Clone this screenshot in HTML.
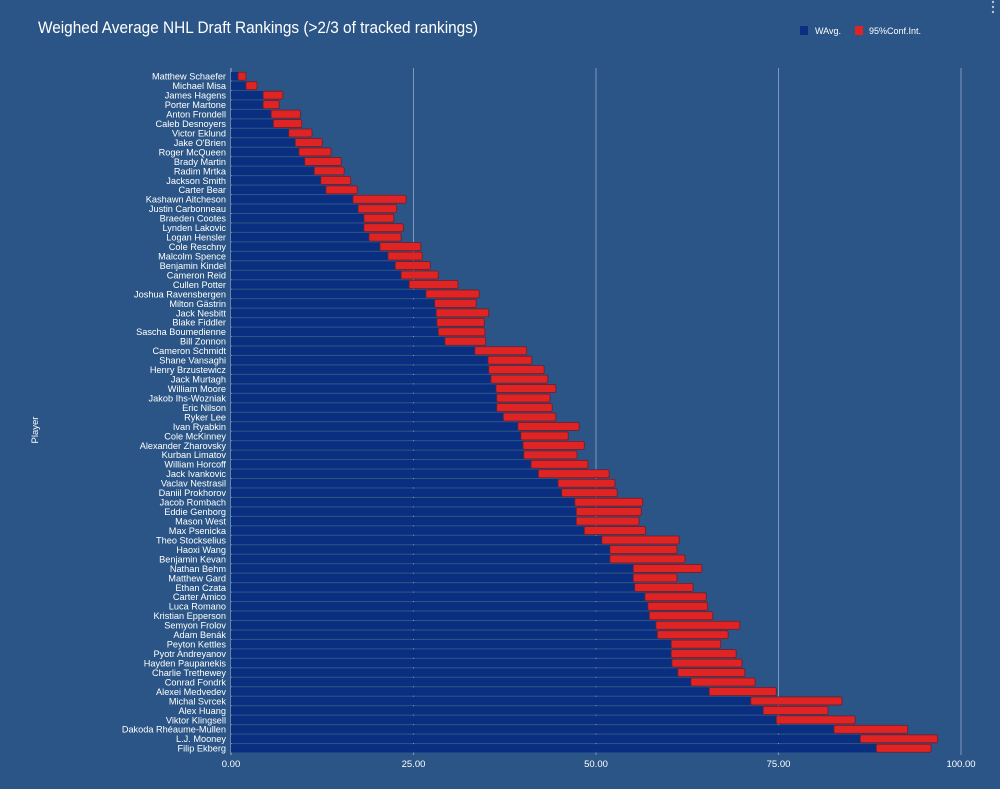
<!DOCTYPE html>
<html><head><meta charset="utf-8"><style>
html,body{margin:0;padding:0;background:#2b5586;}
svg{display:block;font-family:"Liberation Sans",sans-serif;}
</style></head><body>
<svg id="chart" width="1000" height="789" viewBox="0 0 1000 789">
<rect x="0" y="0" width="1000" height="789" fill="#2b5586"/>
<text x="38" y="33" fill="#ffffff" font-size="16.5" textLength="440" lengthAdjust="spacingAndGlyphs">Weighed Average NHL Draft Rankings (&gt;2/3 of tracked rankings)</text>
<g>
<rect x="800" y="26" width="8" height="9" fill="#0b2f80"/>
<text x="815" y="34" fill="#ffffff" font-size="9">WAvg.</text>
<rect x="855" y="26" width="8" height="9" fill="#e02424"/>
<text x="869" y="34" fill="#ffffff" font-size="9">95%Conf.Int.</text>
</g>
<g fill="#b8c4d6">
<circle cx="993" cy="2" r="1.2"/><circle cx="993" cy="7" r="1.2"/><circle cx="993" cy="12" r="1.2"/>
</g>
<text transform="translate(38,430) rotate(-90)" text-anchor="middle" fill="#ffffff" font-size="9.5">Player</text>
<g id="grid"></g><g id="bars"></g><g id="labels"></g><g id="xticks"></g>
</svg>
<script>
const players=["Matthew Schaefer","Michael Misa","James Hagens","Porter Martone","Anton Frondell","Caleb Desnoyers","Victor Eklund","Jake O'Brien","Roger McQueen","Brady Martin","Radim Mrtka","Jackson Smith","Carter Bear","Kashawn Aitcheson","Justin Carbonneau","Braeden Cootes","Lynden Lakovic","Logan Hensler","Cole Reschny","Malcolm Spence","Benjamin Kindel","Cameron Reid","Cullen Potter","Joshua Ravensbergen","Milton Gästrin","Jack Nesbitt","Blake Fiddler","Sascha Boumedienne","Bill Zonnon","Cameron Schmidt","Shane Vansaghi","Henry Brzustewicz","Jack Murtagh","William Moore","Jakob Ihs-Wozniak","Eric Nilson","Ryker Lee","Ivan Ryabkin","Cole McKinney","Alexander Zharovsky","Kurban Limatov","William Horcoff","Jack Ivankovic","Vaclav Nestrasil","Daniil Prokhorov","Jacob Rombach","Eddie Genborg","Mason West","Max Psenicka","Theo Stockselius","Haoxi Wang","Benjamin Kevan","Nathan Behm","Matthew Gard","Ethan Czata","Carter Amico","Luca Romano","Kristian Epperson","Semyon Frolov","Adam Benák","Peyton Kettles","Pyotr Andreyanov","Hayden Paupanekis","Charlie Trethewey","Conrad Fondrk","Alexei Medvedev","Michal Svrcek","Alex Huang","Viktor Klingsell","Dakoda Rhéaume-Mullen","L.J. Mooney","Filip Ekberg"];
const ciLow=[0.96,2.05,4.4,4.4,5.5,5.8,7.9,8.8,9.3,10.1,11.4,12.3,13.0,16.7,17.4,18.2,18.2,18.9,20.4,21.5,22.5,23.3,24.4,26.7,27.9,28.1,28.2,28.4,29.3,33.4,35.2,35.3,35.6,36.3,36.4,36.4,37.3,39.3,39.7,40.0,40.1,41.1,42.1,44.8,45.3,47.1,47.3,47.3,48.4,50.8,51.9,51.9,55.1,55.1,55.3,56.7,57.1,57.3,58.2,58.4,60.3,60.3,60.4,61.2,63.0,65.5,71.2,72.9,74.7,82.6,86.2,88.4];
const ciHigh=[2.05,3.56,7.1,6.6,9.5,9.7,11.1,12.5,13.7,15.1,15.5,16.4,17.3,24.0,22.7,22.3,23.6,23.3,26.0,26.2,27.3,28.4,31.1,34.0,33.6,35.3,34.7,34.8,34.9,40.5,41.2,42.9,43.4,44.5,43.7,44.0,44.5,47.7,46.2,48.4,47.4,48.9,51.8,52.6,52.9,56.4,56.2,55.9,56.8,61.4,61.1,62.2,64.5,61.1,63.3,65.1,65.3,66.0,69.7,68.1,67.1,69.2,70.0,70.4,71.8,74.7,83.7,81.8,85.5,92.7,96.8,95.9];
const xTicks=[0,25,50,75,100];
const xTickLabels=["0.00","25.00","50.00","75.00","100.00"];

const NS="http://www.w3.org/2000/svg";
const x0=231,x1=961,yTop=71.5,yBot=753;
const xs=v=>x0+(v/100)*(x1-x0);
const step=(yBot-yTop)/players.length;
const yc=i=>yTop+step*(i+0.5);
function mk(tag,attrs,parent){const e=document.createElementNS(NS,tag);for(const k in attrs)e.setAttribute(k,attrs[k]);parent.appendChild(e);return e;}
const grid=document.getElementById('grid'),bars=document.getElementById('bars'),labels=document.getElementById('labels'),xt=document.getElementById('xticks');
xTicks.forEach((t,i)=>{
  const l=mk('line',{x1:xs(t),x2:xs(t),y1:68,y2:yBot+2,stroke:i===0?'#9fb3cf':'#7f98bd','stroke-width':1},grid);
  
  
  const tx=mk('text',{x:xs(t),y:767,'text-anchor':'middle',fill:'#ffffff','font-size':9.5},xt);
  tx.textContent=xTickLabels[i];
  
  
});
players.forEach((p,i)=>{
  const y=yc(i);
  const b=mk('rect',{x:xs(0),y:y-4.2,width:Math.max(0,xs(ciLow[i])-xs(0)),height:8.4,fill:'#0b2f80'},bars);
  
  
  const r=mk('rect',{x:xs(ciLow[i]),y:y-4,width:Math.max(1,xs(ciHigh[i])-xs(ciLow[i])),height:8,rx:1.5,fill:'#e02424',stroke:'#6a1f2e','stroke-width':0.8},bars);
  
  
  const t=mk('text',{x:226,y:y+3.4,'text-anchor':'end',fill:'#ffffff','font-size':9.2},labels);
  t.textContent=p;
  
  
});
</script>
</body></html>
